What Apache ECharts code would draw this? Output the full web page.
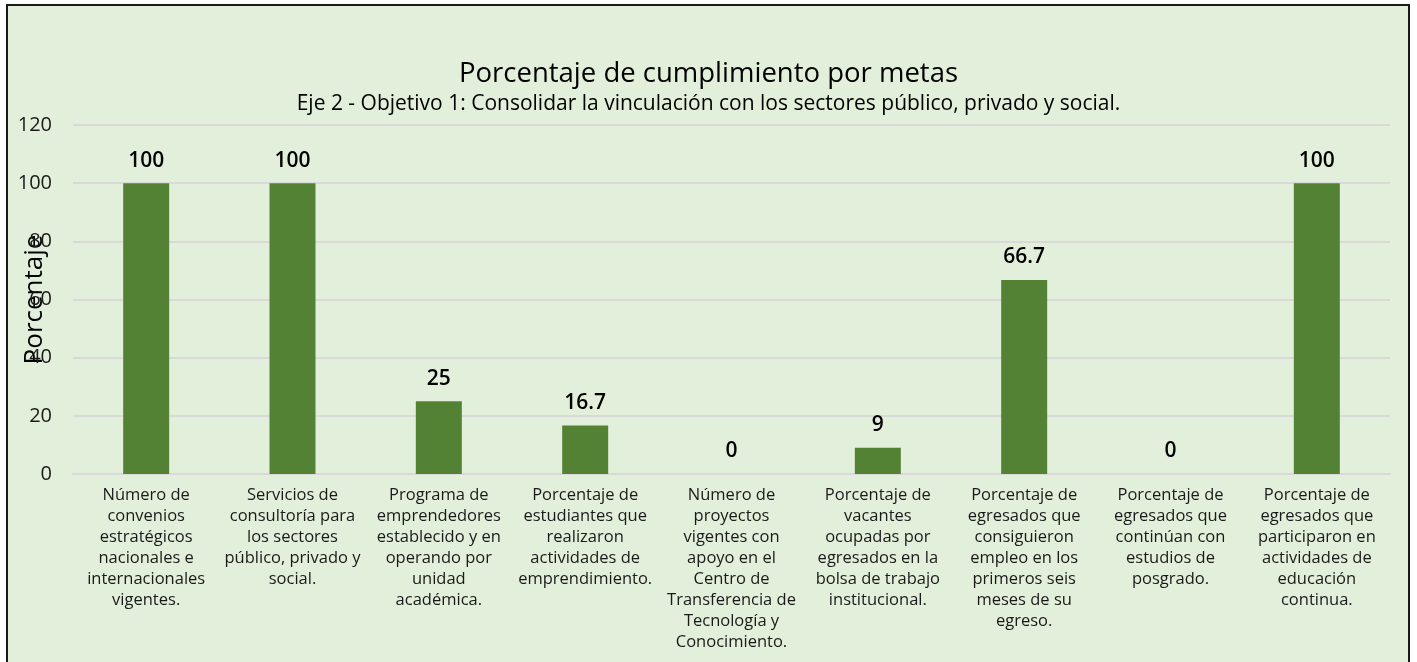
<!DOCTYPE html>
<html><head><meta charset="utf-8">
<script src="https://cdn.jsdelivr.net/npm/echarts@6/dist/echarts.min.js"></script>
<style>
html,body{margin:0;padding:0;background:#fff;}
#wrap{position:absolute;left:6px;top:4px;width:1404px;height:670px;border:2px solid #1a1a1a;background:#E2EFDA;box-sizing:border-box;}
#c{position:absolute;left:0;top:0;width:1417px;height:662px;}
</style></head>
<body>
<div id="wrap"></div>
<div id="c"></div>
<script>
const titleText = "Porcentaje de cumplimiento por metas";
const subtitleText = "Eje 2 - Objetivo 1: Consolidar la vinculación con los sectores público, privado y social.";
const categories = [
  "Número de\nconvenios\nestratégicos\nnacionales e\ninternacionales\nvigentes.",
  "Servicios de\nconsultoría para\nlos sectores\npúblico, privado y\nsocial.",
  "Programa de\nemprendedores\nestablecido y en\noperando por\nunidad\nacadémica.",
  "Porcentaje de\nestudiantes que\nrealizaron\nactividades de\nemprendimiento.",
  "Número de\nproyectos\nvigentes con\napoyo en el\nCentro de\nTransferencia de\nTecnología y\nConocimiento.",
  "Porcentaje de\nvacantes\nocupadas por\negresados en la\nbolsa de trabajo\ninstitucional.",
  "Porcentaje de\negresados que\nconsiguieron\nempleo en los\nprimeros seis\nmeses de su\negreso.",
  "Porcentaje de\negresados que\ncontinúan con\nestudios de\nposgrado.",
  "Porcentaje de\negresados que\nparticiparon en\nactividades de\neducación\ncontinua."
];
const values = [100, 100, 25, 16.7, 0, 9, 66.7, 0, 100];
const yAxisName = "Porcentaje";
const yMin = 0, yMax = 120, yStep = 20;

const FONT = "'Open Sans', 'Noto Sans', sans-serif";
const chart = echarts.init(document.getElementById('c'), null, {renderer:'canvas'});
chart.setOption({
  backgroundColor: 'transparent',
  animation: false,
  title: [
    {text: titleText, left: 'center', top: 55, textStyle:{fontFamily:FONT, fontSize:27.5, fontWeight:500, color:'#000'}},
    {text: subtitleText, left: 'center', top: 89, textStyle:{fontFamily:FONT, fontSize:21, fontWeight:'normal', color:'#000'}}
  ],
  grid: {left: 73, right: 27, top: 125, bottom: 188, containLabel: false, outerBoundsMode: 'none'},
  xAxis: {
    type: 'category',
    data: categories,
    axisLine: {show: true, lineStyle: {color: '#d9d9d9', width: 2}},
    axisTick: {show: false},
    axisLabel: {interval: 0, margin: 11, fontFamily: FONT, fontSize: 16.5, lineHeight: 21, color: '#1a1a1a', align: 'center'}
  },
  yAxis: {
    type: 'value', min: yMin, max: yMax, interval: yStep,
    name: yAxisName, nameLocation: 'middle', nameGap: 25, nameMoveOverlap: false,
    nameTextStyle: {fontFamily: FONT, fontSize: 26, color: '#000'},
    axisLine: {show: false}, axisTick: {show: false},
    axisLabel: {fontFamily: FONT, fontSize: 20, color: '#1a1a1a', margin: 21},
    splitLine: {lineStyle: {color: '#d9d9d9', width: 2}}
  },
  series: [{
    type: 'bar',
    data: values,
    barWidth: 46,
    itemStyle: {color: '#548235'},
    label: {show: true, position: 'top', distance: 12, fontFamily: FONT, fontSize: 21, fontWeight: 600, color: '#000'}
  }]
});
</script>
</body></html>
